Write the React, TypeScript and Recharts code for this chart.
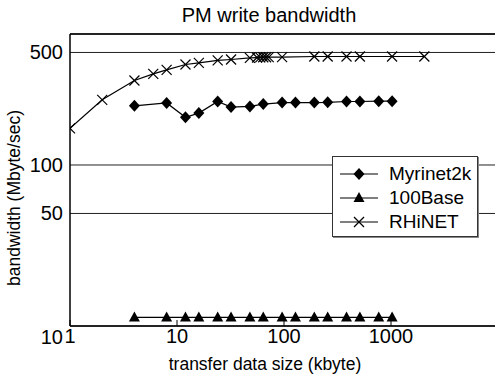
import { ScatterChart, Scatter, XAxis, YAxis, CartesianGrid, Legend, ReferenceLine } from 'recharts';

// transfer sizes (kbyte)
const sizesShort = [4, 8, 12, 16, 24, 32, 48, 64, 96, 128, 192, 256, 384, 512, 768, 1024];
const sizesRhinet = [1, 2, 4, 6, 8, 12, 16, 24, 32, 48, 56, 60, 64, 68, 72, 96, 192, 256, 384, 512, 1024, 2048];

// bandwidth (Mbyte/sec)
const myrinetBw = [233, 243, 198, 210, 248, 229, 231, 239, 244, 244, 244, 245, 248, 248, 249, 249];
const base100Bw = [11.3, 11.3, 11.3, 11.3, 11.3, 11.3, 11.3, 11.3, 11.3, 11.3, 11.3, 11.3, 11.3, 11.3, 11.3, 11.3];
const rhinetBw = [169, 254, 335, 368, 390, 421, 431, 446, 452, 463, 465, 466, 467, 467, 468, 468, 472, 472, 472, 472, 472, 472];

const seriesNames = ['Myrinet2k', '100Base', 'RHiNET'];
const xTicks = [1, 10, 100, 1000];
const yTicks = [10, 50, 100, 500];
const X_DOMAIN = [1, 10000];
const Y_DOMAIN = [10, 651];

const FONT = '"Liberation Sans", Arial, sans-serif';

const toPts = (xs: number[], ys: number[]) => xs.map((x, i) => ({ x, y: ys[i] }));
const myrinet = toPts(sizesShort, myrinetBw);
const base100 = toPts(sizesShort, base100Bw);
const rhinet = toPts(sizesRhinet, rhinetBw);

const Diamond = ({ cx, cy }: any) => (
    <polygon points={`${cx},${cy - 6} ${cx + 5.5},${cy} ${cx},${cy + 6} ${cx - 5.5},${cy}`} fill="#000" />
);
const Triangle = ({ cx, cy }: any) => (
    <polygon points={`${cx},${cy - 6} ${cx + 5.5},${cy + 4} ${cx - 5.5},${cy + 4}`} fill="#000" />
);
const Cross = ({ cx, cy }: any) => (
    <g stroke="#000" strokeWidth={1.2}>
        <line x1={cx - 5} y1={cy - 5} x2={cx + 5} y2={cy + 5} />
        <line x1={cx - 5} y1={cy + 5} x2={cx + 5} y2={cy - 5} />
    </g>
);

const markers: Record<string, any> = { Myrinet2k: Diamond, '100Base': Triangle, RHiNET: Cross };

const XTick = ({ x, y, payload }: any) => (
    <g>
        <line x1={x} x2={x} y1={y} y2={y - 6} stroke="#000" />
        <text x={x} y={y + 17} textAnchor="middle" fontSize={20} fontFamily={FONT} fill="#000">
            {payload.value}
        </text>
    </g>
);

const YTick = ({ x, y, payload }: any) => (
    <text
        x={x - 7}
        y={y + 7 + (payload.value === 10 ? 11 : 0)}
        textAnchor="end"
        fontSize={20}
        fontFamily={FONT}
        fill="#000"
    >
        {payload.value}
    </text>
);

const renderLegend = ({ payload }: any) => {
    const items = [...(payload || [])].sort(
        (a: any, b: any) => seriesNames.indexOf(a.value) - seriesNames.indexOf(b.value)
    );
    return (
        <div
            style={{
                width: 146,
                height: 81,
                boxSizing: 'border-box',
                border: '1px solid #333',
                background: '#fff',
                boxShadow: '1px 1px 0 #888',
                paddingTop: 5,
            }}
        >
            {items.map((p: any) => {
                const M = markers[p.value];
                return (
                    <div key={p.value} style={{ display: 'flex', alignItems: 'center', height: 24 }}>
                        <svg width={56} height={20} style={{ flex: 'none' }}>
                            <line x1={7} x2={45} y1={10} y2={10} stroke="#000" strokeWidth={1.2} />
                            <M cx={26} cy={10} />
                        </svg>
                        <span style={{ fontFamily: FONT, fontSize: 19, color: '#000', lineHeight: '20px' }}>{p.value}</span>
                    </div>
                );
            })}
        </div>
    );
};

export default function App() {
    return (
        <div style={{ position: 'absolute', left: 0, top: 0, width: 495, height: 377, overflow: 'hidden', background: '#fff' }}>
            <div
                style={{
                    position: 'absolute',
                    left: 269,
                    top: 15,
                    transform: 'translate(-50%, -50%)',
                    fontFamily: FONT,
                    fontSize: 20,
                    whiteSpace: 'nowrap',
                }}
            >
                PM write bandwidth
            </div>
            <ScatterChart width={500} height={377} margin={{ top: 34, right: 2, bottom: 0, left: 0 }}>
                <CartesianGrid horizontal vertical={false} stroke="#222" strokeWidth={1} />
                <XAxis
                    type="number"
                    dataKey="x"
                    scale="log"
                    domain={X_DOMAIN}
                    ticks={xTicks}
                    allowDataOverflow
                    height={51}
                    tickSize={0}
                    tickMargin={0}
                    tickLine={false}
                    axisLine={{ stroke: '#000', strokeWidth: 1.5 }}
                    tick={<XTick />}
                    interval={0}
                />
                <YAxis
                    type="number"
                    dataKey="y"
                    scale="log"
                    domain={Y_DOMAIN}
                    ticks={yTicks}
                    allowDataOverflow
                    width={70}
                    tickSize={0}
                    tickMargin={0}
                    tickLine={false}
                    axisLine={{ stroke: '#000', strokeWidth: 1.5 }}
                    tick={<YTick />}
                    interval={0}
                />
                <ReferenceLine y={Y_DOMAIN[1]} stroke="#000" strokeWidth={1.5} ifOverflow="visible" />
                <Legend
                    layout="vertical"
                    align="center"
                    verticalAlign="middle"
                    wrapperStyle={{ left: 332, top: 156, width: 146, height: 81 }}
                    content={renderLegend}
                />
                <Scatter
                    name="Myrinet2k"
                    data={myrinet}
                    line={{ stroke: '#000', strokeWidth: 1.2 }}
                    lineType="joint"
                    shape={(p: any) => <Diamond cx={p.cx} cy={p.cy} />}
                    isAnimationActive={false}
                />
                <Scatter
                    name="100Base"
                    data={base100}
                    line={{ stroke: '#000', strokeWidth: 1.2 }}
                    lineType="joint"
                    shape={(p: any) => <Triangle cx={p.cx} cy={p.cy} />}
                    isAnimationActive={false}
                />
                <Scatter
                    name="RHiNET"
                    data={rhinet}
                    line={{ stroke: '#000', strokeWidth: 1.2 }}
                    lineType="joint"
                    shape={(p: any) => <Cross cx={p.cx} cy={p.cy} />}
                    isAnimationActive={false}
                />
            </ScatterChart>
            <div
                style={{
                    position: 'absolute',
                    left: 14,
                    top: 198,
                    transform: 'translate(-50%, -50%) rotate(-90deg)',
                    fontFamily: FONT,
                    fontSize: 17.5,
                    whiteSpace: 'nowrap',
                }}
            >
                bandwidth (Mbyte/sec)
            </div>
            <div
                style={{
                    position: 'absolute',
                    left: 265,
                    top: 364,
                    transform: 'translate(-50%, -50%)',
                    fontFamily: FONT,
                    fontSize: 17.5,
                    whiteSpace: 'nowrap',
                }}
            >
                transfer data size (kbyte)
            </div>
        </div>
    );
}
